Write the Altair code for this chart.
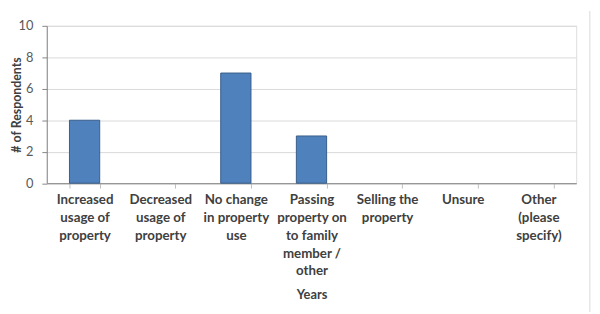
import altair as alt
import pandas as pd

categories = [
    "Increased|usage of|property",
    "Decreased|usage of|property",
    "No change|in property|use",
    "Passing|property on|to family|member /|other",
    "Selling the|property",
    "Unsure",
    "Other|(please|specify)",
]
respondents = [4, 0, 7, 3, 0, 0, 0]
y_ticks = [0, 2, 4, 6, 8, 10]

df = pd.DataFrame({"category": categories, "value": respondents})

FONT = "Lato"
W, H = 536.7, 159.5

bars = alt.Chart(df).transform_filter("datum.value > 0").mark_bar(
    color="#4F81BD", stroke="#385D8A", strokeWidth=1
).encode(
    x=alt.X(
        "category:N",
        sort=categories,
        scale=alt.Scale(domain=categories, paddingInner=0.6, paddingOuter=0.3),
        axis=alt.Axis(
            title="Years",
            titleFont=FONT, titleFontSize=13, titleFontWeight="bold", titleColor="#404040",
            titleX=W / 2, titleY=113, titleBaseline="middle", titleAnchor="middle",
            labelExpr="split(datum.label, '|')",
            labelFont=FONT, labelFontSize=13.5, labelFontWeight="bold", labelColor="#404040",
            labelAngle=0, labelBaseline="top", labelPadding=5, labelLineHeight=18,
            labelOverlap=False, labelLimit=200,
            tickBand="extent", tickSize=5, tickColor="#BFBFBF",
            domainColor="#868686", grid=False,
        ),
    ),
    y=alt.Y(
        "value:Q",
        scale=alt.Scale(domain=[0, 10], nice=False),
        axis=alt.Axis(
            values=y_ticks,
            title="# of Respondents",
            titleFont=FONT, titleFontSize=12.5, titleFontWeight="bold", titleColor="#404040",
            titleAngle=-90, titleX=-26.5, titleY=H / 2, titleAlign="center",
            titleBaseline="alphabetic",
            labelFont=FONT, labelFontSize=13, labelColor="#595959", labelPadding=9,
            tickSize=5, tickColor="#868686", domainColor="#868686",
            gridColor="#D9D9D9",
        ),
    ),
)

border = alt.Chart(pd.DataFrame({"v": [0]})).mark_rule(color="#D9D9D9", strokeWidth=1).encode(
    x=alt.value(550.5), y=alt.value(-15), y2=alt.value(300)
)

chart = alt.layer(bars, border).properties(
    width=W, height=H,
    autosize=alt.AutoSizeParams(type="none"),
    padding={"left": 39.3, "top": 16, "right": 16, "bottom": 128},
).configure_view(stroke=None).configure(background="white")

chart.save("out.html", embed_options={"renderer": "svg", "actions": False})
